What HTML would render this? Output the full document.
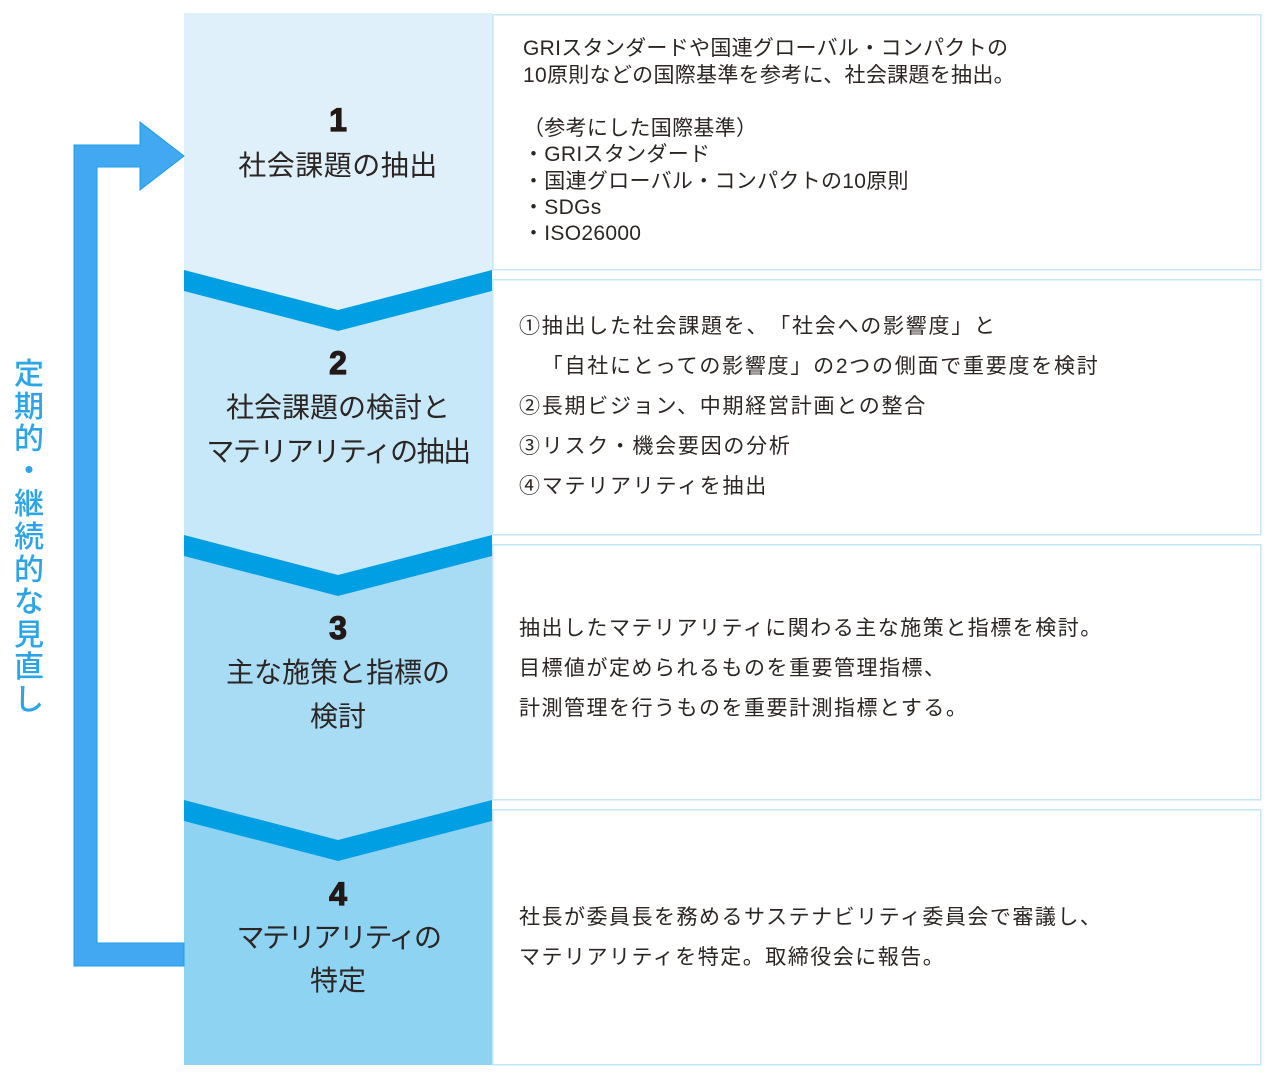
<!DOCTYPE html>
<html lang="ja">
<head>
<meta charset="utf-8">
<style>
  html,body{margin:0;padding:0;background:#fff;}
  body{width:1274px;height:1080px;position:relative;overflow:hidden;
       font-family:"Liberation Sans","Noto Sans CJK JP",sans-serif;color:#2b2523;
       text-spacing-trim:space-all;}
  svg{position:absolute;left:0;top:0;}
  .num{position:absolute;left:184px;width:308px;text-align:center;font-weight:bold;
       font-size:32px;height:36px;line-height:36px;color:#231815;-webkit-text-stroke:1.2px #231815;}
  .pl{position:absolute;left:184px;width:308px;text-align:center;font-size:28px;
      height:40px;line-height:40px;color:#2b2523;}
  .b1{position:absolute;left:523px;font-size:21px;letter-spacing:0.3px;height:26px;line-height:26px;white-space:nowrap;}
  .b2{position:absolute;left:519px;font-size:21px;letter-spacing:1.5px;height:30px;line-height:30px;white-space:nowrap;}
  .b2w{letter-spacing:1.75px;}
  .v{position:absolute;left:12px;width:34px;text-align:center;font-size:30px;line-height:30px;height:30px;
     color:#2ba5e7;font-weight:500;}
</style>
</head>
<body>
<svg width="1274" height="1080" viewBox="0 0 1274 1080">
  <rect x="492.75" y="14.75" width="768" height="255" fill="#fff" stroke="#c3e6f8" stroke-width="1.5"/>
  <rect x="492.75" y="279.75" width="768" height="255" fill="#fff" stroke="#c3e6f8" stroke-width="1.5"/>
  <rect x="492.75" y="544.75" width="768" height="255" fill="#fff" stroke="#c3e6f8" stroke-width="1.5"/>
  <rect x="492.75" y="809.75" width="768" height="255" fill="#fff" stroke="#c3e6f8" stroke-width="1.5"/>

  <rect x="184" y="13" width="308" height="1052" fill="#8fd3f3"/>
  <polygon points="184,13 492,13 492,821 338,861 184,821" fill="#a8dcf5"/>
  <polygon points="184,13 492,13 492,556 338,596 184,556" fill="#c7e8f9"/>
  <polygon points="184,13 492,13 492,291 338,331 184,291" fill="#dff0fa"/>

  <polygon points="184,270 338,310 492,270 492,291 338,331 184,291" fill="#009fe4"/>
  <polygon points="184,535 338,575 492,535 492,556 338,596 184,556" fill="#009fe4"/>
  <polygon points="184,800 338,840 492,800 492,821 338,861 184,821" fill="#009fe4"/>

  <polygon points="74,966 184,966 184,943 97,943 97,167 140,167 140,190 184,156 140,122 140,145 74,145"
           fill="#42a8f2" stroke="#1a9fe6" stroke-width="1"/>
</svg>

<div class="v" style="top:360px;">定</div>
<div class="v" style="top:392.6px;">期</div>
<div class="v" style="top:425.2px;">的</div>
<div class="v" style="top:456.8px;">・</div>
<div class="v" style="top:490.4px;">継</div>
<div class="v" style="top:523px;">続</div>
<div class="v" style="top:555.6px;">的</div>
<div class="v" style="top:588.2px;">な</div>
<div class="v" style="top:620.8px;">見</div>
<div class="v" style="top:653.4px;">直</div>
<div class="v" style="top:686px;">し</div>

<div class="num" style="top:102px;">1</div>
<div class="pl" style="top:146px;letter-spacing:0.5px;">社会課題の抽出</div>
<div class="num" style="top:345px;">2</div>
<div class="pl" style="top:388px;">社会課題の検討と</div>
<div class="pl" style="top:432px;letter-spacing:-1.5px;">マテリアリティの抽出</div>
<div class="num" style="top:610px;">3</div>
<div class="pl" style="top:653px;">主な施策と指標の</div>
<div class="pl" style="top:697px;">検討</div>
<div class="num" style="top:876px;">4</div>
<div class="pl" style="top:918px;letter-spacing:-2.4px;">マテリアリティの</div>
<div class="pl" style="top:961px;">特定</div>

<div class="b1" style="top:36px;">GRIスタンダードや国連グローバル・コンパクトの</div>
<div class="b1" style="top:63px;">10原則などの国際基準を参考に、社会課題を抽出。</div>
<div class="b1" style="top:116px;">（参考にした国際基準）</div>
<div class="b1" style="top:142px;">・GRIスタンダード</div>
<div class="b1" style="top:169px;">・国連グローバル・コンパクトの10原則</div>
<div class="b1" style="top:195px;">・SDGs</div>
<div class="b1" style="top:221px;">・ISO26000</div>

<div class="b2 b2w" style="top:312px;">①抽出した社会課題を、「社会への影響度」と</div>
<div class="b2 b2w" style="top:352px;">　「自社にとっての影響度」の2つの側面で重要度を検討</div>
<div class="b2 b2w" style="top:392px;">②長期ビジョン、中期経営計画との整合</div>
<div class="b2 b2w" style="top:432px;">③リスク・機会要因の分析</div>
<div class="b2 b2w" style="top:472px;">④マテリアリティを抽出</div>

<div class="b2" style="top:614px;">抽出したマテリアリティに関わる主な施策と指標を検討。</div>
<div class="b2" style="top:654px;">目標値が定められるものを重要管理指標、</div>
<div class="b2" style="top:694px;">計測管理を行うものを重要計測指標とする。</div>

<div class="b2" style="top:903px;">社長が委員長を務めるサステナビリティ委員会で審議し、</div>
<div class="b2" style="top:943px;">マテリアリティを特定。取締役会に報告。</div>
</body>
</html>
